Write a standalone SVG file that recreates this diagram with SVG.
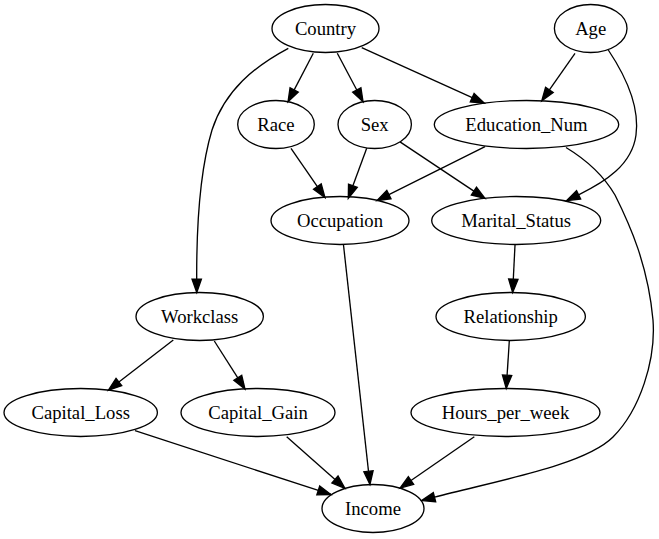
<svg xmlns="http://www.w3.org/2000/svg" width="659" height="539" viewBox="0 0 659 539">
<style>
.n ellipse{fill:none;stroke:#000;stroke-width:1.33}
.n text{font-family:'Liberation Serif','DejaVu Serif','Times New Roman',serif;font-size:18.67px;text-anchor:middle;fill:#000}
#edges path{fill:none;stroke:#000;stroke-width:1.33;marker-end:url(#ah)}
</style>
<defs>
<marker id="ah" markerUnits="userSpaceOnUse" viewBox="0 -5 14 10" refX="0" refY="0" markerWidth="14" markerHeight="10" orient="auto" overflow="visible">
<path d="M0,-4.67 L13.33,0 L0,4.67 Z" fill="#000" stroke="#000" stroke-width="1.33"/>
</marker>
</defs>
<rect width="659" height="539" fill="#fff"/>
<g id="edges">
<path d="M313.3,53.3 L294.2,89.9"/>
<path d="M337.3,53.3 L356.8,90"/>
<path d="M361.7,47.7 L472.2,97.7"/>
<path d="M288.3,48.3 C255,66 225,90 212,130 C200,170 196.5,230 196.7,279.2"/>
<path d="M575,53.3 L549.4,89.9"/>
<path d="M608.3,50 C625,75 640,105 636,135 C632,165 605,182 578.6,194.8"/>
<path d="M291,148.3 L317.4,186.6"/>
<path d="M366.7,148.3 L352.9,185.8"/>
<path d="M485,146.7 L388.9,194.6"/>
<path d="M400,141.9 L473.9,191.1"/>
<path d="M566,147.5 C590,162 605,178 615,195 C630,225 648,265 653,320 C656,360 640,410 613,437 C585,465 500,480 434.5,497.2"/>
<path d="M343.5,245 L368.5,471.2"/>
<path d="M515,245 L513.3,279.2"/>
<path d="M509.3,340.7 L507.1,375.2"/>
<path d="M173.3,340 L118.9,382"/>
<path d="M214.3,341 L237.8,377.8"/>
<path d="M135,430.7 L318.3,490.4"/>
<path d="M286.7,436.7 L335,479.5"/>
<path d="M474.3,436.7 L411,480.5"/>
</g>
<g id="Country" class="n"><ellipse cx="325.5" cy="28.5" rx="53.5" ry="24"/><text x="325.5" y="34.5" font-family="Liberation Serif, serif">Country</text></g>
<g id="Age" class="n"><ellipse cx="590.7" cy="28.5" rx="36.3" ry="24"/><text x="590.7" y="34.5" font-family="Liberation Serif, serif">Age</text></g>
<g id="Race" class="n"><ellipse cx="276" cy="124.5" rx="38.3" ry="24"/><text x="276" y="130.5" font-family="Liberation Serif, serif">Race</text></g>
<g id="Sex" class="n"><ellipse cx="374.7" cy="124.5" rx="36.7" ry="24"/><text x="374.7" y="130.5" font-family="Liberation Serif, serif">Sex</text></g>
<g id="Education_Num" class="n"><ellipse cx="526.5" cy="124.5" rx="92.2" ry="24"/><text x="526.5" y="130.5" font-family="Liberation Serif, serif">Education_Num</text></g>
<g id="Occupation" class="n"><ellipse cx="340" cy="220.5" rx="69" ry="24"/><text x="340" y="226.5" font-family="Liberation Serif, serif">Occupation</text></g>
<g id="Marital_Status" class="n"><ellipse cx="516.2" cy="220.5" rx="84.5" ry="24"/><text x="516.2" y="226.5" font-family="Liberation Serif, serif">Marital_Status</text></g>
<g id="Workclass" class="n"><ellipse cx="199.7" cy="316.5" rx="63.7" ry="24"/><text x="199.7" y="322.5" font-family="Liberation Serif, serif">Workclass</text></g>
<g id="Relationship" class="n"><ellipse cx="510.7" cy="316.5" rx="74.7" ry="24"/><text x="510.7" y="322.5" font-family="Liberation Serif, serif">Relationship</text></g>
<g id="Capital_Loss" class="n"><ellipse cx="80.7" cy="412.5" rx="76.7" ry="24"/><text x="80.7" y="418.5" font-family="Liberation Serif, serif">Capital_Loss</text></g>
<g id="Capital_Gain" class="n"><ellipse cx="258" cy="412.5" rx="77" ry="24"/><text x="258" y="418.5" font-family="Liberation Serif, serif">Capital_Gain</text></g>
<g id="Hours_per_week" class="n"><ellipse cx="505.5" cy="412.5" rx="94.5" ry="24"/><text x="505.5" y="418.5" font-family="Liberation Serif, serif">Hours_per_week</text></g>
<g id="Income" class="n"><ellipse cx="373" cy="508.5" rx="51" ry="24"/><text x="373" y="514.5" font-family="Liberation Serif, serif">Income</text></g>
</svg>
